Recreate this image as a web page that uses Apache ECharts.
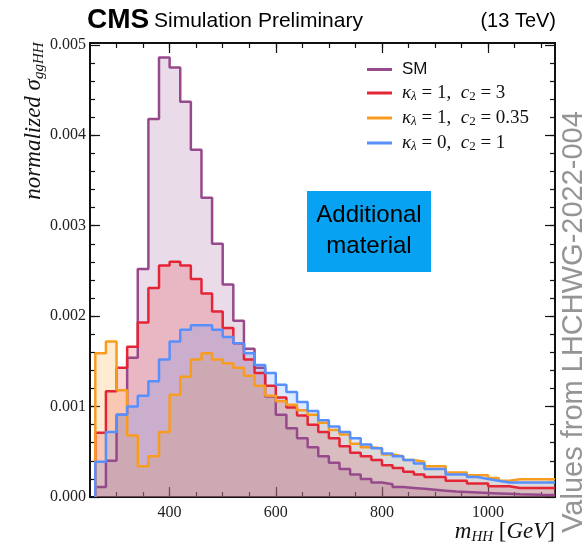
<!DOCTYPE html>
<html><head><meta charset="utf-8">
<script src="https://cdn.jsdelivr.net/npm/echarts@6/dist/echarts.min.js"></script>
<style>html,body{margin:0;padding:0;background:#fff}#c{width:585px;height:543px}</style>
</head><body><div id="c"></div>
<script>
// m_HH bin lower edges (GeV), 20 GeV bins; last bin runs to the axis end
const binLow = [260,280,300,320,340,360,380,400,420,440,460,480,500,520,540,560,580,600,620,640,660,680,700,720,740,760,780,800,820,840,860,880,900,920,940,960,980,1000,1020,1040,1060,1080,1100];
const xMin = 250, xMax = 1126;
const yScale = 1e-3; // values below are in units of 0.001
const seriesNames = ['SM', 'k1c3', 'k1c035', 'k0c1'];
const smVals = [0.11,0.40,0.91,1.54,2.52,4.18,4.86,4.75,4.37,3.84,3.31,2.80,2.35,1.95,1.64,1.43,1.11,0.91,0.76,0.65,0.55,0.45,0.38,0.31,0.25,0.20,0.16,0.14,0.11,0.10,0.09,0.08,0.07,0.06,0.055,0.05,0.045,0.04,0.035,0.03,0.028,0.025,0.022];
const k1c3Vals = [0.71,1.17,1.43,1.66,1.93,2.31,2.56,2.60,2.56,2.41,2.25,2.05,1.87,1.70,1.52,1.37,1.23,1.10,0.99,0.90,0.80,0.72,0.65,0.56,0.49,0.45,0.41,0.35,0.32,0.28,0.25,0.22,0.22,0.18,0.18,0.15,0.15,0.12,0.12,0.10,0.10,0.10,0.10];
const k1c035Vals = [1.59,1.72,1.18,0.68,0.34,0.45,0.72,1.13,1.33,1.52,1.59,1.52,1.48,1.43,1.34,1.23,1.12,1.06,1.02,0.96,0.91,0.82,0.74,0.69,0.59,0.55,0.54,0.47,0.45,0.41,0.39,0.34,0.34,0.27,0.27,0.24,0.24,0.21,0.18,0.195,0.195,0.195,0.195];
const k0c1Vals = [0.39,0.72,0.91,1.00,1.12,1.28,1.52,1.72,1.85,1.90,1.90,1.85,1.77,1.70,1.59,1.46,1.37,1.24,1.16,1.05,0.95,0.85,0.78,0.72,0.65,0.58,0.54,0.48,0.45,0.41,0.37,0.31,0.31,0.25,0.25,0.22,0.20,0.18,0.16,0.16,0.16,0.16,0.16];
const xLabelValues = [400,600,800,1000];
const xMinorValues = [300,350,400,450,500,550,600,650,700,750,800,850,900,950,1000,1050,1100];
const yLabelValues = [0,0.001,0.002,0.003,0.004,0.005];
const yMinorValues = [0.0002,0.0004,0.0006,0.0008,0.001,0.0012,0.0014,0.0016,0.0018,0.002,0.0022,0.0024,0.0026,0.0028,0.003,0.0032,0.0034,0.0036,0.0038,0.004,0.0042,0.0044,0.0046,0.0048];
const yMax = 0.00502;

const colors = ['#964a8b', '#e42536', '#f89c20', '#5790fc'];
const allVals = [smVals, k1c3Vals, k1c035Vals, k0c1Vals];

function hist(vals) {
  const pts = [[binLow[0], 0]];
  vals.forEach((v, i) => pts.push([binLow[i], v * yScale]));
  pts.push([xMax, vals[vals.length - 1] * yScale]);
  return pts;
}

const serif = 'Liberation Serif';
const sans = 'Liberation Sans';
const legendRich = {
  s: { fontFamily: sans, fontSize: 17, color: '#111', lineHeight: 20 },
  i: { fontFamily: serif, fontStyle: 'italic', fontSize: 19, color: '#111', lineHeight: 20 },
  n: { fontFamily: serif, fontSize: 19, color: '#111', lineHeight: 20 },
  sub: { fontFamily: serif, fontStyle: 'italic', fontSize: 13, color: '#111', lineHeight: 14, padding: [7, 0, 0, 0] },
  subn: { fontFamily: serif, fontSize: 13, color: '#111', lineHeight: 14, padding: [7, 0, 0, 0] }
};
const legendText = {
  SM: '{s|SM}',
  k1c3: '{i|κ}{sub|λ}{n| = 1,  }{i|c}{subn|2}{n| = 3}',
  k1c035: '{i|κ}{sub|λ}{n| = 1,  }{i|c}{subn|2}{n| = 0.35}',
  k0c1: '{i|κ}{sub|λ}{n| = 0,  }{i|c}{subn|2}{n| = 1}'
};

function xAx(grid, pos, opts) {
  return Object.assign({
    type: 'value', gridIndex: grid, position: pos, min: xMin, max: xMax,
    axisLine: { show: true, onZero: false, lineStyle: { color: '#111', width: 2 } },
    splitLine: { show: false },
    axisLabel: { show: false },
    axisTick: { show: false }
  }, opts);
}
function yAx(grid, pos, opts) {
  return Object.assign({
    type: 'value', gridIndex: grid, position: pos, min: 0, max: yMax,
    axisLine: { show: true, onZero: false, lineStyle: { color: '#111', width: 2 } },
    splitLine: { show: false },
    axisLabel: { show: false },
    axisTick: { show: false }
  }, opts);
}
const minorTick = (vals) => ({ show: true, inside: true, length: 5, customValues: vals, lineStyle: { color: '#111', width: 1.2 } });
const majorTick = (vals) => ({ show: true, inside: true, length: 10, customValues: vals, lineStyle: { color: '#111', width: 1.2 } });

const gridBox = { left: 90, right: 30, top: 43, bottom: 46 };

const option = {
  animation: false,
  backgroundColor: '#fff',
  grid: [Object.assign({}, gridBox), Object.assign({}, gridBox)],
  xAxis: [
    xAx(0, 'bottom', {
      axisTick: minorTick(xMinorValues),
      axisLabel: { show: true, customValues: xLabelValues, color: '#222', fontFamily: serif, fontSize: 16, margin: 8,
        formatter: v => String(v) }
    }),
    xAx(0, 'top', { axisTick: minorTick(xMinorValues) }),
    xAx(1, 'bottom', { axisTick: majorTick(xLabelValues) }),
    xAx(1, 'top', { axisTick: majorTick(xLabelValues) })
  ],
  yAxis: [
    yAx(0, 'left', {
      axisTick: minorTick(yMinorValues),
      axisLabel: { show: true, customValues: yLabelValues, color: '#222', fontFamily: serif, fontSize: 16, margin: 4,
        formatter: v => v.toFixed(3) }
    }),
    yAx(0, 'right', { axisTick: minorTick(yMinorValues) }),
    yAx(1, 'left', { axisTick: majorTick(yLabelValues) }),
    yAx(1, 'right', { axisTick: majorTick(yLabelValues) })
  ],
  legend: {
    orient: 'vertical', left: 362, top: 56, itemWidth: 25, itemHeight: 3, icon: 'rect', itemGap: 5,
    data: seriesNames,
    formatter: name => legendText[name],
    textStyle: { rich: legendRich, padding: [0, 0, 0, 5] }
  },
  series: seriesNames.map((name, k) => ({
    name: name, type: 'line', xAxisIndex: 0, yAxisIndex: 0,
    step: 'end', symbol: 'none', clip: true,
    data: hist(allVals[k]),
    itemStyle: { color: colors[k] },
    lineStyle: { color: colors[k], width: 2.5 },
    areaStyle: { color: colors[k], opacity: 0.2 }
  })),
  graphic: [
    { type: 'text', x: 87, y: 20, style: { text: 'CMS', fontFamily: sans, fontWeight: 'bold', fontSize: 28, fill: '#000', textVerticalAlign: 'middle' } },
    { type: 'text', x: 154, y: 21, style: { text: 'Simulation Preliminary', fontFamily: sans, fontSize: 21, fill: '#000', textVerticalAlign: 'middle' } },
    { type: 'text', x: 556, y: 21, style: { text: '(13 TeV)', fontFamily: sans, fontSize: 20, fill: '#000', textAlign: 'right', textVerticalAlign: 'middle' } },
    { type: 'rect', shape: { x: 307, y: 191, width: 124, height: 81 }, style: { fill: '#08a2f2' }, z: 50 },
    { type: 'text', x: 369, y: 231, z: 51, style: { text: 'Additional\nmaterial', fontFamily: sans, fontSize: 24, lineHeight: 31, fill: '#000', textAlign: 'center', textVerticalAlign: 'middle' } },
    { type: 'text', x: 574, y: 322, rotation: Math.PI / 2, style: { text: 'Values from LHCHWG-2022-004', fontFamily: sans, fontSize: 29, fill: '#959595', textAlign: 'center', textVerticalAlign: 'middle' } },
    { type: 'text', x: 34, y: 121, rotation: Math.PI / 2, style: {
        text: '{a|normalized }{a|σ}{b|ggHH}', textAlign: 'center', textVerticalAlign: 'middle',
        rich: {
          a: { fontFamily: serif, fontStyle: 'italic', fontSize: 23, fill: '#111', lineHeight: 26 },
          b: { fontFamily: serif, fontStyle: 'italic', fontSize: 15, fill: '#111', lineHeight: 17, padding: [10, 0, 0, 0] }
        } } },
    { type: 'text', x: 555, y: 532, style: {
        text: '{a|m}{b|HH}{n| [}{a|GeV}{n|]}', textAlign: 'right', textVerticalAlign: 'middle',
        rich: {
          a: { fontFamily: serif, fontStyle: 'italic', fontSize: 23, fill: '#111', lineHeight: 26 },
          n: { fontFamily: serif, fontSize: 23, fill: '#111', lineHeight: 26 },
          b: { fontFamily: serif, fontStyle: 'italic', fontSize: 15, fill: '#111', lineHeight: 17, padding: [10, 0, 0, 0] }
        } } }
  ]
};
const chart = echarts.init(document.getElementById('c'), null, { renderer: 'canvas' });
chart.setOption(option);
</script></body></html>
